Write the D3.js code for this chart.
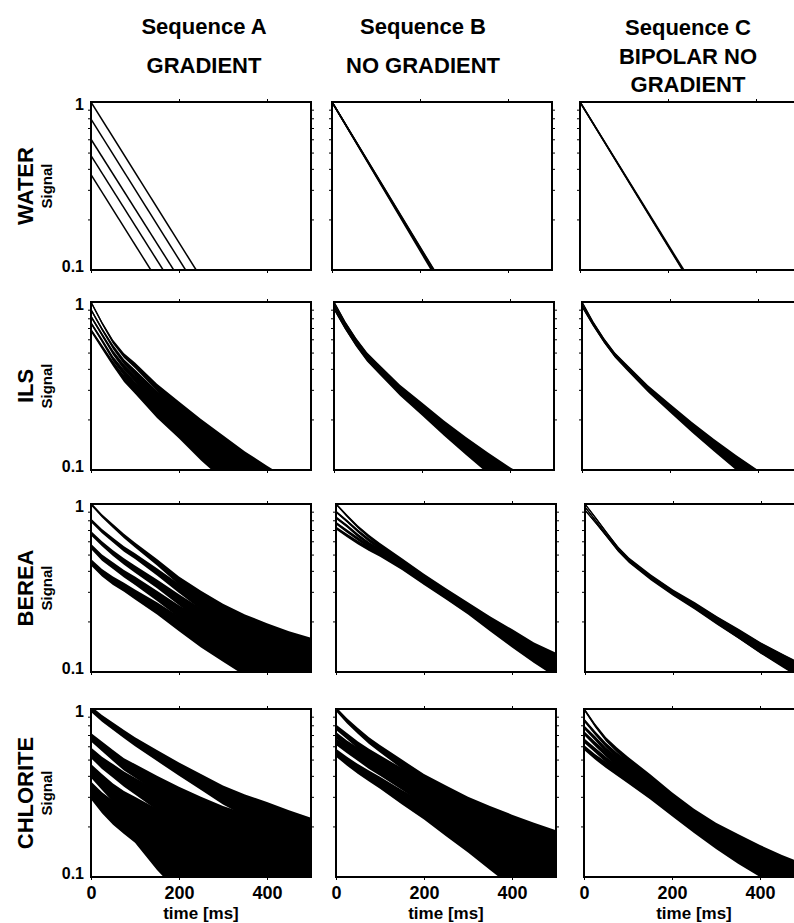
<!DOCTYPE html>
<html>
<head>
<meta charset="utf-8">
<script src="https://cdn.jsdelivr.net/npm/d3@7"></script>
<style>
  body { margin: 0; background: #fff; }
  svg { display: block; font-family: "Liberation Sans", Arial, Helvetica, sans-serif; font-weight: bold; }
</style>
</head>
<body>
<svg id="chart" width="794" height="923"></svg>
<script>
// ---- data ----
const times = [0, 25, 50, 75, 100, 150, 200, 250, 300, 350, 400, 450, 500]; // ms
const sequenceTitles = [["Sequence A", "GRADIENT"], ["Sequence B", "NO GRADIENT"], ["Sequence C", "BIPOLAR NO", "GRADIENT"]];
const sampleNames = ["WATER", "ILS", "BEREA", "CHLORITE"];
const xTickValues = [0, 200, 400];
const xTopTicks = [200, 400];
const yLabelValues = [0.1, 1];
const yMinorTicks = [0.2, 0.3, 0.4, 0.5, 0.6, 0.7, 0.8, 0.9];

// water: clean mono-exponential lines, start value and time (ms) where they reach 0.1
const waterStartA = [1, 0.79, 0.60, 0.48, 0.37];
const waterEndA   = [239, 215, 188, 164, 136];
const waterStartB = [1, 1, 1, 1, 1];
const waterEndB   = [226, 228, 229, 231, 232];
const waterStartC = [1, 1, 1];
const waterEndC   = [233, 234, 236];

// ILS
const ilsA = [
  [1, 0.75, 0.58, 0.48, 0.42, 0.31, 0.24, 0.185, 0.145, 0.113, 0.09, 0.072, 0.058],
  [0.90, 0.69, 0.54, 0.44, 0.38, 0.28, 0.218, 0.168, 0.132, 0.104, 0.083, 0.067, 0.054],
  [0.82, 0.64, 0.50, 0.41, 0.35, 0.26, 0.20, 0.155, 0.122, 0.096, 0.077, 0.062, 0.05],
  [0.75, 0.59, 0.46, 0.38, 0.32, 0.24, 0.183, 0.142, 0.112, 0.089, 0.071, 0.057, 0.046],
  [0.68, 0.54, 0.43, 0.35, 0.30, 0.22, 0.17, 0.13, 0.103, 0.082, 0.065, 0.052, 0.042]
];
const ilsB = [
  [1, 0.76, 0.60, 0.49, 0.42, 0.31, 0.24, 0.185, 0.145, 0.115, 0.092, 0.075, 0.06],
  [0.97, 0.74, 0.585, 0.48, 0.41, 0.303, 0.234, 0.18, 0.141, 0.112, 0.09, 0.073, 0.059],
  [0.94, 0.72, 0.57, 0.47, 0.40, 0.296, 0.228, 0.176, 0.138, 0.11, 0.088, 0.071, 0.058],
  [0.91, 0.70, 0.555, 0.455, 0.39, 0.289, 0.223, 0.172, 0.135, 0.107, 0.086, 0.07, 0.056]
];
const ilsC = [
  [1, 0.76, 0.60, 0.49, 0.42, 0.31, 0.238, 0.183, 0.143, 0.113, 0.09, 0.073, 0.059],
  [0.97, 0.745, 0.59, 0.482, 0.413, 0.305, 0.234, 0.18, 0.141, 0.111, 0.089, 0.072, 0.058],
  [0.94, 0.73, 0.58, 0.475, 0.407, 0.30, 0.23, 0.177, 0.139, 0.11, 0.088, 0.071, 0.057]
];

// BEREA
const bereaA = [
  [1, 0.85, 0.74, 0.645, 0.57, 0.45, 0.35, 0.285, 0.235, 0.20, 0.175, 0.155, 0.14],
  [0.80, 0.69, 0.61, 0.54, 0.49, 0.395, 0.315, 0.255, 0.21, 0.178, 0.155, 0.137, 0.122],
  [0.67, 0.58, 0.51, 0.455, 0.41, 0.335, 0.27, 0.22, 0.182, 0.155, 0.135, 0.118, 0.105],
  [0.56, 0.48, 0.43, 0.385, 0.35, 0.285, 0.23, 0.19, 0.158, 0.134, 0.116, 0.102, 0.092],
  [0.45, 0.39, 0.35, 0.32, 0.29, 0.24, 0.195, 0.16, 0.135, 0.115, 0.10, 0.09, 0.08]
];
const bereaB = [
  [1, 0.85, 0.73, 0.64, 0.57, 0.46, 0.37, 0.30, 0.245, 0.20, 0.165, 0.135, 0.115],
  [0.90, 0.79, 0.69, 0.61, 0.55, 0.45, 0.362, 0.295, 0.242, 0.197, 0.162, 0.133, 0.113],
  [0.83, 0.74, 0.65, 0.58, 0.53, 0.44, 0.357, 0.292, 0.24, 0.195, 0.16, 0.132, 0.112],
  [0.77, 0.69, 0.62, 0.56, 0.515, 0.43, 0.35, 0.288, 0.238, 0.193, 0.158, 0.13, 0.11],
  [0.72, 0.65, 0.59, 0.54, 0.50, 0.42, 0.345, 0.285, 0.235, 0.19, 0.155, 0.128, 0.108]
];
const bereaC = [
  [1, 0.82, 0.67, 0.55, 0.47, 0.37, 0.30, 0.25, 0.205, 0.17, 0.14, 0.118, 0.10],
  [0.96, 0.79, 0.65, 0.54, 0.46, 0.365, 0.297, 0.247, 0.203, 0.168, 0.139, 0.117, 0.099],
  [0.92, 0.77, 0.64, 0.53, 0.455, 0.36, 0.294, 0.245, 0.201, 0.167, 0.138, 0.116, 0.098]
];

// CHLORITE
const chloriteA = [
  [1, 0.88, 0.79, 0.71, 0.64, 0.53, 0.44, 0.37, 0.31, 0.27, 0.24, 0.21, 0.185],
  [0.68, 0.60, 0.53, 0.47, 0.43, 0.36, 0.305, 0.26, 0.225, 0.20, 0.18, 0.16, 0.14],
  [0.55, 0.48, 0.43, 0.385, 0.35, 0.29, 0.24, 0.195, 0.16, 0.135, 0.115, 0.10, 0.09],
  [0.43, 0.37, 0.32, 0.285, 0.26, 0.215, 0.175, 0.145, 0.12, 0.10, 0.085, 0.075, 0.065],
  [0.33, 0.28, 0.245, 0.22, 0.20, 0.15, 0.12, 0.098, 0.08, 0.067, 0.057, 0.05, 0.044]
];
const chloriteB = [
  [1, 0.85, 0.74, 0.65, 0.58, 0.47, 0.38, 0.32, 0.27, 0.235, 0.205, 0.18, 0.16],
  [0.78, 0.69, 0.61, 0.55, 0.50, 0.415, 0.345, 0.29, 0.245, 0.21, 0.18, 0.158, 0.14],
  [0.70, 0.62, 0.56, 0.505, 0.46, 0.385, 0.32, 0.27, 0.228, 0.195, 0.168, 0.147, 0.13],
  [0.64, 0.575, 0.52, 0.47, 0.43, 0.36, 0.30, 0.252, 0.213, 0.18, 0.155, 0.135, 0.118],
  [0.55, 0.49, 0.44, 0.40, 0.365, 0.30, 0.25, 0.205, 0.17, 0.14, 0.117, 0.10, 0.088]
];
const chloriteC = [
  [1, 0.80, 0.66, 0.57, 0.50, 0.39, 0.30, 0.235, 0.19, 0.16, 0.135, 0.115, 0.10],
  [0.86, 0.72, 0.61, 0.53, 0.47, 0.37, 0.288, 0.228, 0.185, 0.155, 0.132, 0.112, 0.097],
  [0.78, 0.67, 0.57, 0.50, 0.445, 0.355, 0.278, 0.222, 0.18, 0.151, 0.129, 0.11, 0.095],
  [0.72, 0.62, 0.54, 0.475, 0.425, 0.34, 0.27, 0.216, 0.176, 0.148, 0.126, 0.108, 0.093],
  [0.65, 0.57, 0.50, 0.445, 0.40, 0.325, 0.26, 0.21, 0.172, 0.145, 0.123, 0.105, 0.09],
  [0.59, 0.52, 0.465, 0.42, 0.38, 0.31, 0.25, 0.203, 0.167, 0.14, 0.12, 0.102, 0.088]
];

// approximate noise amplitude (absolute signal units) of each panel, rows x columns
const noiseAmp = [
  [0, 0, 0],
  [0.016, 0.012, 0.010],
  [0.020, 0.015, 0.010],
  [0.040, 0.030, 0.020]
];

// ---- layout ----
const W = 220, H = 168;
const rowTops = [102, 302, 504, 709];
const colLefts = [
  [91, 332, 580],
  [91, 334, 582],
  [91, 336, 585],
  [91, 336, 584]
];

const svg = d3.select("#chart");
svg.append("rect").attr("width", 794).attr("height", 923).attr("fill", "#fff");

const noisy = [
  null,
  [ilsA, ilsB, ilsC],
  [bereaA, bereaB, bereaC],
  [chloriteA, chloriteB, chloriteC]
];
const water = [
  [waterStartA, waterEndA],
  [waterStartB, waterEndB],
  [waterStartC, waterEndC]
];

function drawPanel(row, col) {
  const left = colLefts[row][col], top = rowTops[row];
  const x = d3.scaleLinear().domain([0, 500]).range([left, left + W]);
  const y = d3.scaleLog().domain([0.1, 1]).range([top + H, top]);
  const clipId = `clip-${row}-${col}`;

  svg.append("clipPath").attr("id", clipId)
    .append("rect").attr("x", left).attr("y", top).attr("width", W).attr("height", H);

  const g = svg.append("g").attr("clip-path", `url(#${clipId})`);

  if (row === 0) {
    const [starts, ends] = water[col];
    const lines = starts.map((s, i) => [[0, s], [ends[i], 0.1]]);
    g.selectAll("path")
      .data(lines)
      .join("path")
      .attr("fill", "none")
      .attr("stroke", "#000")
      .attr("stroke-width", 1.5)
      .attr("d", d3.line().x(d => x(d[0])).y(d => y(d[1])));
  } else {
    const curves = noisy[row][col];
    const a = noiseAmp[row][col];
    // noise band around each decay curve
    const band = d3.area()
      .x((d, i) => x(times[i]))
      .y0(d => y(Math.max(d - a, 0.02)))
      .y1(d => y(d + a));
    g.append("g")
      .selectAll("path")
      .data(curves)
      .join("path")
      .attr("fill", "#000")
      .attr("d", band);
    g.append("g")
      .selectAll("path")
      .data(curves)
      .join("path")
      .attr("fill", "none")
      .attr("stroke", "#000")
      .attr("stroke-width", 1.3)
      .attr("d", d3.line().x((d, i) => x(times[i])).y(d => y(d)));
  }

  // ticks on all four sides, outward
  const tickStyle = ax => ax.call(s => s.select(".domain").remove())
    .call(s => s.selectAll(".tick line").attr("stroke", "#000").attr("stroke-width", 1));

  svg.append("g").attr("transform", `translate(${left},0)`)
    .call(d3.axisLeft(y).tickValues(yMinorTicks).tickSize(3).tickFormat(""))
    .call(tickStyle);
  svg.append("g").attr("transform", `translate(${left + W},0)`)
    .call(d3.axisRight(y).tickValues(yMinorTicks).tickSize(3).tickFormat(""))
    .call(tickStyle);
  svg.append("g").attr("transform", `translate(0,${top})`)
    .call(d3.axisTop(x).tickValues(xTopTicks).tickSize(3).tickFormat(""))
    .call(tickStyle);

  const bottom = svg.append("g").attr("transform", `translate(0,${top + H})`)
    .call(d3.axisBottom(x).tickValues(xTickValues).tickSize(3).tickPadding(6)
      .tickFormat(row === 3 ? d3.format("d") : ""))
    .call(tickStyle);
  bottom.selectAll("text")
    .attr("font-family", null).attr("font-size", 18).attr("fill", "#000");

  if (col === 0) {
    const yl = svg.append("g").attr("transform", `translate(${left},0)`)
      .call(d3.axisLeft(y).tickValues(yLabelValues).tickSize(0).tickPadding(7)
        .tickFormat(d => d === 1 ? "1" : "0.1"))
      .call(s => s.select(".domain").remove());
    yl.selectAll("text").attr("font-family", null).attr("font-size", 16).attr("fill", "#000")
      .attr("dy", d => d === 1 ? "0.45em" : "0.1em");
  }

  // frame
  svg.append("rect")
    .attr("x", left).attr("y", top).attr("width", W).attr("height", H)
    .attr("fill", "none").attr("stroke", "#000").attr("stroke-width", 2);

  if (row === 3) {
    svg.append("text")
      .attr("x", left + W / 2).attr("y", 919)
      .attr("text-anchor", "middle").attr("font-size", 17)
      .text("time [ms]");
  }
}

for (let r = 0; r < 4; r++) {
  for (let c = 0; c < 3; c++) drawPanel(r, c);
}

// column headers
const headerPos = [
  { x: 204, ys: [34, 73] },
  { x: 423, ys: [34, 73] },
  { x: 688, ys: [35, 64, 92] }
];
sequenceTitles.forEach((lines, c) => {
  lines.forEach((t, k) => {
    svg.append("text")
      .attr("x", headerPos[c].x).attr("y", headerPos[c].ys[k])
      .attr("text-anchor", "middle").attr("font-size", 22)
      .text(t);
  });
});

// row labels
sampleNames.forEach((name, r) => {
  const cy = rowTops[r] + H / 2;
  svg.append("text")
    .attr("transform", `translate(33,${cy}) rotate(-90)`)
    .attr("text-anchor", "middle").attr("font-size", 22)
    .text(name);
  svg.append("text")
    .attr("transform", `translate(52,${cy}) rotate(-90)`)
    .attr("text-anchor", "middle").attr("font-size", 15)
    .text("Signal");
});
</script>
</body>
</html>
